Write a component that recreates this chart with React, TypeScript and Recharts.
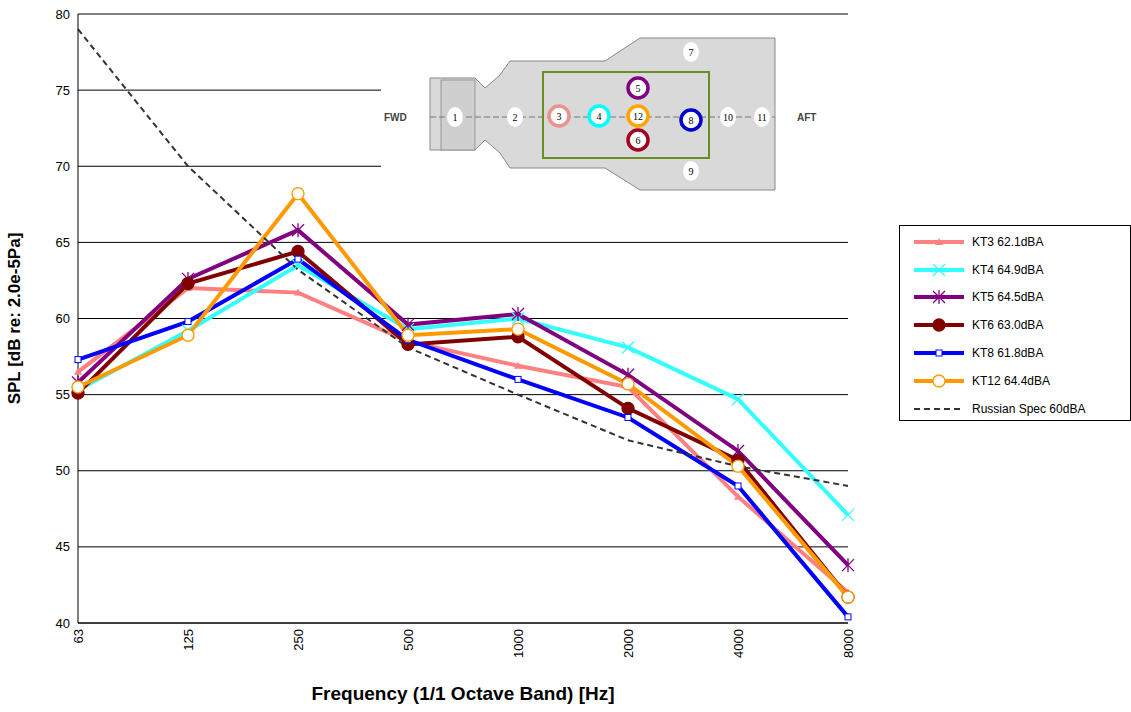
import { LineChart, Line, XAxis, YAxis, CartesianGrid } from "recharts"

const freqs = ["63", "125", "250", "500", "1000", "2000", "4000", "8000"]
const kt3 = [56.5, 62.0, 61.7, 58.5, 56.9, 55.5, 48.3, 42.0]
const kt4 = [55.3, 59.2, 63.5, 59.3, 60.0, 58.1, 54.7, 47.1]
const kt5 = [55.8, 62.6, 65.8, 59.6, 60.3, 56.3, 51.3, 43.8]
const kt6 = [55.1, 62.3, 64.4, 58.3, 58.8, 54.1, 50.7, 41.7]
const kt8 = [57.3, 59.8, 63.9, 58.6, 56.0, 53.5, 49.0, 40.4]
const kt12 = [55.5, 58.9, 68.2, 58.9, 59.3, 55.7, 50.3, 41.7]
const russian = [79.0, 70.0, 63.2, 58.1, 55.0, 52.0, 50.3, 49.0]
const yTicks = [40, 45, 50, 55, 60, 65, 70, 75, 80]

const data = freqs.map((f, i) => ({
  f, kt3: kt3[i], kt4: kt4[i], kt5: kt5[i], kt6: kt6[i], kt8: kt8[i], kt12: kt12[i], russian: russian[i],
}))

const font = "Arial, 'Liberation Sans', sans-serif"

const Tri = (c: string) => (p: any) => (
  <polygon key={p.index} points={`${p.cx},${p.cy - 4} ${p.cx - 4},${p.cy + 3} ${p.cx + 4},${p.cy + 3}`} fill={c} />
)
const Cross = (c: string) => (p: any) => (
  <g key={p.index} stroke={c} strokeWidth={1.3}>
    <line x1={p.cx - 6} y1={p.cy - 6} x2={p.cx + 6} y2={p.cy + 6} />
    <line x1={p.cx - 6} y1={p.cy + 6} x2={p.cx + 6} y2={p.cy - 6} />
  </g>
)
const Star = (c: string) => (p: any) => (
  <g key={p.index} stroke={c} strokeWidth={1.3}>
    <line x1={p.cx - 6} y1={p.cy - 6} x2={p.cx + 6} y2={p.cy + 6} />
    <line x1={p.cx - 6} y1={p.cy + 6} x2={p.cx + 6} y2={p.cy - 6} />
    <line x1={p.cx} y1={p.cy - 7} x2={p.cx} y2={p.cy + 7} />
  </g>
)
const Dot = (c: string, fill: string, r: number) => (p: any) => (
  <circle key={p.index} cx={p.cx} cy={p.cy} r={r} fill={fill} stroke={c} strokeWidth={1.3} />
)
const Sq = (c: string) => (p: any) => (
  <rect key={p.index} x={p.cx - 3} y={p.cy - 3} width={6} height={6} fill="#fff" stroke={c} />
)

const series = [
  { key: "kt3", name: "KT3 62.1dBA", color: "#ff8080", dot: Tri("#ff8080") },
  { key: "kt4", name: "KT4 64.9dBA", color: "#33ffff", dot: Cross("#33ffff") },
  { key: "kt5", name: "KT5 64.5dBA", color: "#800080", dot: Star("#800080") },
  { key: "kt6", name: "KT6 63.0dBA", color: "#800000", dot: Dot("#800000", "#800000", 6) },
  { key: "kt8", name: "KT8 61.8dBA", color: "#0000ff", dot: Sq("#0000ff") },
  { key: "kt12", name: "KT12 64.4dBA", color: "#ff9900", dot: Dot("#ff9900", "#fff", 6) },
]

function Inset() {
  const g = "#d9d9d9"
  const s = "#888"
  const ring = (x: number, y: number, c: string, t: string) => (
    <g>
      <circle cx={x} cy={y} r={10} fill="#fff" stroke={c} strokeWidth={3.5} />
      <text x={x} y={y + 4} fontSize={10} textAnchor="middle" fontFamily="serif">{t}</text>
    </g>
  )
  const plain = (x: number, y: number, t: string) => (
    <g>
      <ellipse cx={x} cy={y} rx={8} ry={10} fill="#fff" />
      <text x={x} y={y + 4} fontSize={10} textAnchor="middle" fontFamily="serif">{t}</text>
    </g>
  )
  return (
    <svg width={1131} height={712} style={{ position: "absolute", left: 0, top: 0, pointerEvents: "none" }}>
      <rect x={381} y={22} width={469} height={168} fill="#fff" />
      <polygon points="430,78 475,78 485,88 500,75 510,61 605,61 640,38 775,38 775,190 640,190 605,168 510,168 500,153 485,140 475,150 430,150" fill={g} stroke={s} strokeWidth={1} />
      <rect x={441} y={80} width={34} height={70} fill="#cfcfcf" stroke={s} strokeWidth={0.8} />
      <line x1={430} y1={117} x2={775} y2={117} stroke="#777" strokeDasharray="6 3" />
      <rect x={543} y={72} width={166} height={86} fill="none" stroke="#6b8e23" strokeWidth={2} />
      <text x={384} y={121} fontSize={10} fontWeight="bold" fontFamily={font} fill="#444">FWD</text>
      <text x={797} y={121} fontSize={10} fontWeight="bold" fontFamily={font} fill="#444">AFT</text>
      {plain(455, 117, "1")}
      {plain(515, 117, "2")}
      {plain(691, 52, "7")}
      {plain(691, 171, "9")}
      {plain(728, 117, "10")}
      {plain(762, 117, "11")}
      {ring(559, 116, "#e8948e", "3")}
      {ring(599, 116, "#00ffff", "4")}
      {ring(638, 88, "#800080", "5")}
      {ring(638, 116, "#ffa500", "12")}
      {ring(638, 140, "#a0001e", "6")}
      {ring(691, 120, "#0000cc", "8")}
    </svg>
  )
}

export default function App() {
  return (
    <div style={{ position: "absolute", left: 0, top: 0, width: 1131, height: 712, background: "#fff", fontFamily: font }}>
      <LineChart width={1131} height={712} data={data} margin={{ top: 14, right: 283, bottom: 0, left: 0 }}>
        <CartesianGrid vertical={false} stroke="#000" strokeWidth={1} />
        <XAxis
          dataKey="f"
          height={89}
          stroke="#000"
          tickLine={false}
          angle={-90}
          textAnchor="end"
          dx={-4}
          dy={-2}
          tick={{ fontSize: 13, fill: "#000", fontFamily: font }}
          label={{ value: "Frequency (1/1 Octave Band) [Hz]", position: "insideBottom", offset: 12, fontSize: 19, fontWeight: "bold", fill: "#000", fontFamily: font }}
        />
        <YAxis
          width={78}
          domain={[40, 80]}
          ticks={yTicks}
          stroke="#000"
          tickLine={false}
          tick={{ fontSize: 13, fill: "#000", fontFamily: font }}
          label={{ value: "SPL [dB re: 2.0e-5Pa]", angle: -90, position: "insideLeft", offset: 14, fontSize: 17, fontWeight: "bold", fill: "#000", fontFamily: font, style: { textAnchor: "middle" } }}
        />
        {series.map((s) => (
          <Line key={s.key} dataKey={s.key} stroke={s.color} strokeWidth={4} dot={s.dot} isAnimationActive={false} />
        ))}
        <Line dataKey="russian" stroke="#333" strokeWidth={2} strokeDasharray="6 4" dot={false} isAnimationActive={false} />
      </LineChart>
      <Inset />
      <div style={{ position: "absolute", left: 899, top: 225, width: 232, height: 196, border: "1px solid #000", boxSizing: "border-box", padding: "2px 0 0 12px" }}>
        {series.map((s) => (
          <div key={s.key} style={{ display: "flex", alignItems: "center", height: 27.8, fontSize: 12 }}>
            <svg width={56} height={14}>
              <line x1={2} y1={7} x2={52} y2={7} stroke={s.color} strokeWidth={4} />
              {s.dot({ cx: 27, cy: 7, index: 0 })}
            </svg>
            <span style={{ marginLeft: 4 }}>{s.name}</span>
          </div>
        ))}
        <div style={{ display: "flex", alignItems: "center", height: 27.8, fontSize: 12 }}>
          <svg width={56} height={14}>
            <line x1={2} y1={7} x2={52} y2={7} stroke="#333" strokeWidth={2} strokeDasharray="6 4" />
          </svg>
          <span style={{ marginLeft: 4 }}>Russian Spec 60dBA</span>
        </div>
      </div>
    </div>
  )
}
